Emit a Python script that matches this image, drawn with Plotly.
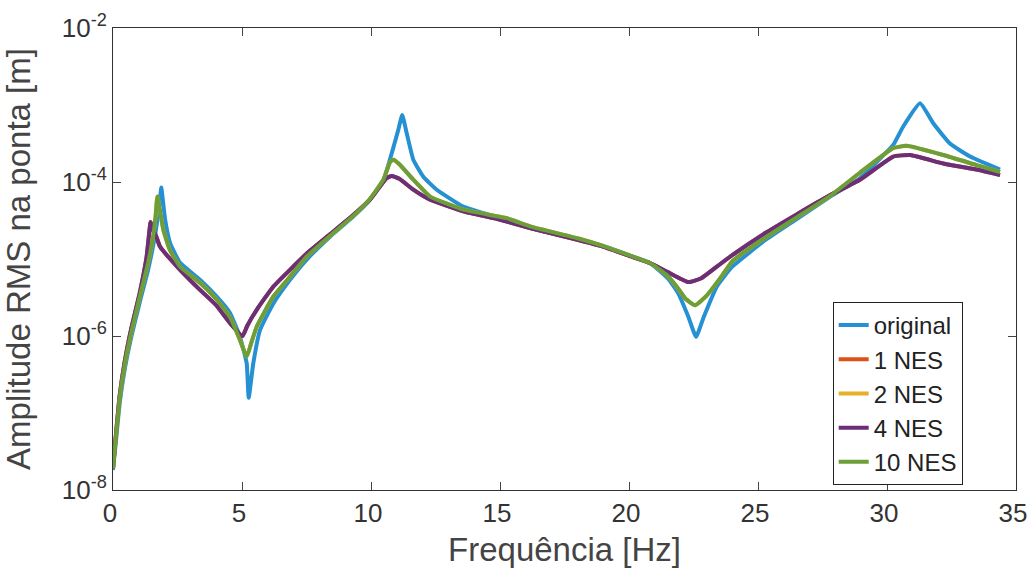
import plotly.graph_objects as go

# ---- data (frequency in Hz, RMS tip amplitude in m) ----
orig_x = [0.0, 0.13, 0.26, 0.45, 0.71, 1.03, 1.36, 1.62, 1.81, 1.87, 2.02, 2.21, 2.6, 3.37, 4.02,
          4.53, 4.92, 5.18, 5.26, 5.44, 5.7, 6.21, 6.86, 7.5, 8.41, 9.31, 9.96, 10.48, 10.8, 11.06,
          11.21, 11.38, 11.64, 12.03, 12.55, 13.58, 15.0, 16.2, 18.0, 18.9, 20.0, 20.8, 21.5, 21.9,
          22.3, 22.6, 22.9, 23.4, 24.0, 25.3, 26.5, 27.8, 28.95, 29.6, 30.24, 30.63, 31.28, 31.8,
          32.44, 33.22, 34.38]
orig_y = [1.82e-8, 4.90e-8, 1.35e-7, 3.63e-7, 9.77e-7, 2.69e-6, 7.24e-6, 1.95e-5, 5.37e-5, 8.51e-5,
          3.24e-5, 1.62e-5, 8.91e-6, 5.37e-6, 3.24e-6, 2.00e-6, 9.77e-7, 4.47e-7, 1.58e-7, 4.47e-7,
          1.20e-6, 2.63e-6, 5.37e-6, 9.77e-6, 1.95e-5, 3.55e-5, 5.89e-5, 1.05e-4, 2.34e-4, 4.79e-4,
          7.41e-4, 4.37e-4, 1.95e-4, 1.17e-4, 7.94e-5, 4.79e-5, 3.39e-5, 2.51e-5, 1.82e-5, 1.51e-5,
          1.12e-5, 8.91e-6, 5.62e-6, 3.63e-6, 1.78e-6, 9.77e-7, 1.78e-6, 4.37e-6, 7.94e-6, 1.78e-5,
          3.31e-5, 6.46e-5, 1.12e-4, 1.82e-4, 3.02e-4, 5.25e-4, 1.05e-3, 5.75e-4, 3.16e-4, 2.14e-4,
          1.45e-4]

nes10_x = [0.0, 0.13, 0.26, 0.45, 0.71, 1.03, 1.36, 1.55, 1.65, 1.72, 1.95, 2.2, 2.6, 3.37, 4.0,
           4.53, 4.92, 5.18, 5.35, 5.57, 6.21, 6.86, 7.5, 8.41, 9.31, 9.96, 10.48, 10.74, 10.87,
           11.1, 11.64, 12.29, 13.58, 15.26, 16.2, 18.0, 18.9, 20.0, 20.8, 21.5, 21.85, 22.2, 22.56,
           23.0, 23.6, 24.0, 25.3, 26.5, 27.8, 28.95, 30.24, 30.76, 32.18, 33.47, 34.38]
nes10_y = [1.91e-8, 5.62e-8, 1.58e-7, 4.17e-7, 1.12e-6, 3.16e-6, 8.91e-6, 1.91e-5, 3.55e-5, 6.46e-5,
           2.40e-5, 1.32e-5, 7.94e-6, 4.90e-6, 3.02e-6, 1.78e-6, 8.91e-7, 5.37e-7, 7.94e-7, 1.32e-6,
           3.24e-6, 5.89e-6, 1.07e-5, 2.00e-5, 3.63e-5, 6.03e-5, 1.07e-4, 1.82e-4, 1.95e-4, 1.70e-4,
           1.07e-4, 6.46e-5, 4.37e-5, 3.39e-5, 2.63e-5, 1.86e-5, 1.51e-5, 1.12e-5, 8.91e-6, 6.03e-6,
           4.37e-6, 3.02e-6, 2.51e-6, 3.31e-6, 6.03e-6, 9.33e-6, 1.91e-5, 3.47e-5, 6.61e-5, 1.32e-4,
           2.75e-4, 2.95e-4, 2.24e-4, 1.66e-4, 1.35e-4]

nes4_x = [0.0, 0.13, 0.26, 0.45, 0.71, 1.03, 1.3, 1.46, 1.55, 1.68, 1.82, 2.6, 3.37, 4.0, 4.53,
          5.02, 5.2, 5.57, 6.21, 6.86, 7.5, 8.41, 9.31, 9.96, 10.3, 10.6, 10.8, 11.1, 11.64, 12.29,
          13.58, 15.0, 16.2, 18.0, 18.9, 20.0, 20.8, 21.5, 22.3, 22.8, 23.4, 24.0, 25.3, 26.5, 27.8,
          28.95, 30.24, 30.9, 32.18, 33.47, 34.38]
nes4_y = [1.91e-8, 6.03e-8, 1.70e-7, 4.57e-7, 1.26e-6, 3.55e-6, 1.05e-5, 3.02e-5, 2.40e-5, 1.95e-5,
          1.45e-5, 7.24e-6, 3.98e-6, 2.51e-6, 1.48e-6, 1.00e-6, 1.35e-6, 2.19e-6, 4.37e-6, 7.24e-6,
          1.17e-5, 2.09e-5, 3.72e-5, 5.89e-5, 8.32e-5, 1.12e-4, 1.20e-4, 1.10e-4, 7.94e-5, 5.89e-5,
          4.17e-5, 3.24e-5, 2.51e-5, 1.78e-5, 1.48e-5, 1.10e-5, 8.91e-6, 6.76e-6, 5.01e-6, 5.62e-6,
          7.94e-6, 1.12e-5, 2.19e-5, 3.80e-5, 6.76e-5, 1.07e-4, 2.14e-4, 2.24e-4, 1.74e-4, 1.45e-4,
          1.23e-4]

# 1 NES and 2 NES lie hidden beneath the 4 NES and 10 NES curves in the picture
nes1_x = list(nes4_x)
nes1_y = list(nes4_y)
nes2_x = list(nes10_x)
nes2_y = list(nes10_y)

series_names = ["original", "1 NES", "2 NES", "4 NES", "10 NES"]
series_colors = ["#2590d2", "#d95319", "#e5b02a", "#6b2f7a", "#6c9e3a"]

y_tickvals = [1e-8, 1e-6, 1e-4, 1e-2]
y_ticktext = ["10<sup>-8</sup>", "10<sup>-6</sup>", "10<sup>-4</sup>", "10<sup>-2</sup>"]
x_tickvals = [0, 5, 10, 15, 20, 25, 30, 35]

fig = go.Figure()
for name, color, xs, ys in zip(series_names, series_colors,
                               [orig_x, nes1_x, nes2_x, nes4_x, nes10_x],
                               [orig_y, nes1_y, nes2_y, nes4_y, nes10_y]):
    fig.add_trace(go.Scatter(x=xs, y=ys, mode="lines", name=name,
                             line=dict(color=color, width=4, shape="spline", smoothing=0.4)))

font_family = "Liberation Sans, Arial, sans-serif"
fig.update_layout(
    width=1029, height=575,
    margin=dict(l=113, r=13, t=28, b=85),
    paper_bgcolor="white", plot_bgcolor="white",
    font=dict(family=font_family, color="#222"),
    showlegend=True,
    legend=dict(x=0.797, y=0.407, xanchor="left", yanchor="top",
                bgcolor="white", bordercolor="#222", borderwidth=1,
                font=dict(size=24, family=font_family, color="#222"),
                tracegroupgap=0, itemwidth=30),
    xaxis=dict(range=[0, 35], tickvals=x_tickvals, ticks="inside", ticklen=8,
               showline=True, linecolor="#333", linewidth=1, mirror="ticks",
               showgrid=False, zeroline=False, automargin=False, ticklabeloverflow="allow",
               ticklabelshift=-3,
               tickfont=dict(size=26, color="#333"),
               title=dict(text="Frequência [Hz]", font=dict(size=33, color="#444"), standoff=10)),
    yaxis=dict(type="log", range=[-8, -2], tickvals=y_tickvals, ticktext=y_ticktext,
               ticks="inside", ticklen=8,
               showline=True, linecolor="#333", linewidth=1, mirror="ticks",
               showgrid=False, zeroline=False, automargin=False, ticklabeloverflow="allow",
               tickfont=dict(size=26, color="#333"),
               title=dict(text="Amplitude RMS na ponta [m]", font=dict(size=33, color="#444"), standoff=24)),
)

# remove the default page margin so the 1029x575 figure fills the window exactly
fig.write_html("out.html", config={"displayModeBar": False},
               post_script="document.body.style.margin='0';document.body.style.overflow='hidden';")
